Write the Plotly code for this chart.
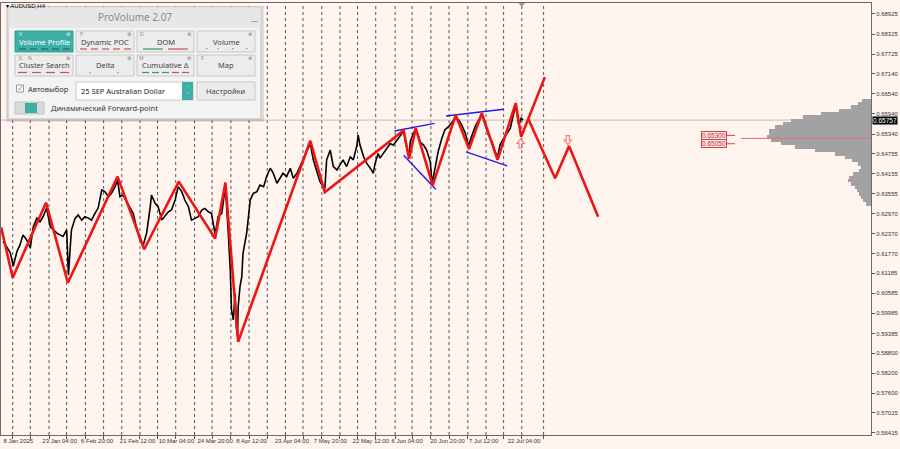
import plotly.graph_objects as go

# ---------------- data ----------------
# H4 bar index (0 = 8 Jan 2025 12:00) and close price
price_points = [
    (0, 0.6213), (6, 0.6198), (12, 0.6179), (17, 0.6140), (23, 0.6183), (28, 0.6203),
    (33, 0.6233), (39, 0.6218), (45, 0.6194), (50, 0.6257), (56, 0.6283), (61, 0.6272),
    (66, 0.6287), (72, 0.6313), (78, 0.6257), (83, 0.6248), (89, 0.6238), (94, 0.6233),
    (99, 0.6228), (105, 0.6248), (108, 0.6113), (111, 0.6198), (113, 0.6248), (119, 0.6283),
    (124, 0.6292), (130, 0.6277), (135, 0.6287), (141, 0.6283), (146, 0.6277), (152, 0.6298),
    (157, 0.6313), (163, 0.6367), (168, 0.6362), (174, 0.6347), (179, 0.6357), (185, 0.6377),
    (189, 0.6397), (193, 0.6347), (198, 0.6352), (204, 0.6332), (210, 0.6312), (215, 0.6297),
    (221, 0.6248), (226, 0.6218), (231, 0.6200), (237, 0.6238), (243, 0.6317), (245, 0.6352),
    (251, 0.6327), (256, 0.6317), (262, 0.6277), (267, 0.6287), (273, 0.6302), (278, 0.6307),
    (284, 0.6337), (289, 0.6377), (295, 0.6362), (300, 0.6337), (306, 0.6317), (311, 0.6277),
    (317, 0.6282), (322, 0.6287), (328, 0.6307), (333, 0.6312), (339, 0.6302), (344, 0.6297),
    (350, 0.6235), (355, 0.6287), (361, 0.6297), (367, 0.6379), (372, 0.6228), (375, 0.6128),
    (377, 0.6009), (380, 0.5979), (383, 0.6058), (385, 0.5959), (387, 0.5930), (388, 0.6018),
    (391, 0.6078), (394, 0.6108), (396, 0.6178), (399, 0.6208), (402, 0.6238), (405, 0.6287),
    (408, 0.6337), (413, 0.6357), (419, 0.6362), (424, 0.6382), (430, 0.6377), (435, 0.6407),
    (441, 0.6432), (446, 0.6417), (452, 0.6387), (457, 0.6402), (462, 0.6417), (468, 0.6407),
    (474, 0.6432), (479, 0.6402), (485, 0.6417), (490, 0.6437), (495, 0.6457), (501, 0.6486),
    (507, 0.6506), (512, 0.6457), (518, 0.6417), (523, 0.6392), (531, 0.6370), (534, 0.6457),
    (540, 0.6486), (545, 0.6437), (551, 0.6427), (556, 0.6442), (561, 0.6457), (567, 0.6437),
    (573, 0.6466), (578, 0.6457), (584, 0.6501), (586, 0.6531), (589, 0.6501), (595, 0.6466),
    (600, 0.6447), (606, 0.6432), (611, 0.6417), (614, 0.6447), (619, 0.6476), (622, 0.6462),
    (627, 0.6476), (633, 0.6491), (639, 0.6506), (644, 0.6501), (650, 0.6516), (655, 0.6531),
    (661, 0.6543), (666, 0.6496), (670, 0.6465), (672, 0.6511), (677, 0.6536), (681, 0.6549),
    (685, 0.6531), (688, 0.6511), (694, 0.6501), (699, 0.6486), (705, 0.6451), (708, 0.6385),
    (713, 0.6432), (718, 0.6481), (724, 0.6521), (729, 0.6546), (735, 0.6556), (741, 0.6571),
    (746, 0.6581), (752, 0.6576), (757, 0.6561), (763, 0.6536), (768, 0.6498), (774, 0.6531),
    (779, 0.6556), (785, 0.6576), (790, 0.6591), (796, 0.6561), (801, 0.6531), (807, 0.6511),
    (812, 0.6481), (816, 0.6465), (820, 0.6501), (826, 0.6521), (831, 0.6536), (837, 0.6551),
    (842, 0.6591), (846, 0.6618), (851, 0.6561), (855, 0.6581), (858, 0.65757),
]
bar_idx = [p[0] for p in price_points]
close = [p[1] for p in price_points]

# ZigZag
zz_bar = [-3, 16, 71, 107, 189, 233, 290, 350, 367, 388, 507, 531, 661, 670, 681, 709,
          747, 769, 790, 816, 846, 855, 894]
zz_price = [0.6255, 0.6105, 0.6329, 0.6090, 0.6407, 0.6190, 0.6392, 0.6222, 0.6389, 0.5914,
            0.6514, 0.6360, 0.6545, 0.6460, 0.6551, 0.6381, 0.6591, 0.6489, 0.6596, 0.6457,
            0.6626, 0.6526, 0.6704]
# Forward-point projection
fc_bar = [867, 911, 934, 982]
fc_price = [0.6578, 0.6402, 0.6498, 0.6287]
# arrows (bar, price)
arrow_up = (854, 0.6506)
arrow_dn = (932, 0.6516)

# blue trend lines: (bar0, price0, bar1, price1)
blue_lines = [
    (646, 0.6543, 712, 0.6566),
    (661, 0.6471, 714, 0.6369),
    (731, 0.6588, 826, 0.6608),
    (764, 0.6481, 832, 0.6439),
]

# weekly separators (bar index)
separators = [16, 45, 76, 105, 136, 166, 196, 226, 255, 285, 316, 345, 376, 406, 436, 466,
              495, 526, 556, 585, 615, 647, 675, 706, 736, 767, 797, 826, 856, 892]

# x labels
x_tick_bars = [0, 64, 128, 192, 256, 320, 384, 448, 512, 576, 640, 704, 768, 832]
x_tick_text = ["8 Jan 2025", "23 Jan 04:00", "6 Feb 20:00", "21 Feb 12:00", "10 Mar 04:00",
               "24 Mar 20:00", "8 Apr 12:00", "23 Apr 04:00", "7 May 20:00", "22 May 12:00",
               "6 Jun 04:00", "20 Jun 20:00", "7 Jul 12:00", "22 Jul 04:00"]

# y labels
y_ticks = [0.68925, 0.68325, 0.67725, 0.67140, 0.66540, 0.65940, 0.65340, 0.64755, 0.64155,
           0.63555, 0.62970, 0.62370, 0.61770, 0.61185, 0.60585, 0.59985, 0.59385, 0.58800,
           0.58200, 0.57600, 0.57015, 0.56415]

bid_price = 0.65757
poc_price = 0.6521
level_prices = [0.65300, 0.65050]

# volume profile
vp_price = [0.6635, 0.6625, 0.6615, 0.6605, 0.6595, 0.6585, 0.6575, 0.6565, 0.6555, 0.6545,
            0.6535, 0.6525, 0.6515, 0.6505, 0.6495, 0.6485, 0.6475, 0.6465, 0.6455, 0.6445,
            0.6435, 0.6425, 0.6415, 0.6405, 0.6395, 0.6385, 0.6375, 0.6365, 0.6355, 0.6345,
            0.6335, 0.6325]
vp_vol = [9, 13, 20, 32, 50, 68, 80, 88, 96, 102, 102, 104, 100, 90, 76, 56, 36, 26, 19, 13,
          10, 12, 18, 22, 23, 20, 16, 14, 12, 10, 8, 5]

# ---------------- layout helpers ----------------
W, H = 900, 449
L, R, T, B = 1, 871, 3, 435


def fx(p):
    return (p - L) / (R - L)


def fy(p):
    return (B - p) / (B - T)


BG = "#FFF5EE"
TEAL = "#3db0a3"
PFONT = "Noto Sans"

fig = go.Figure()

fig.add_trace(go.Bar(
    x=vp_vol, y=vp_price, orientation="h", xaxis="x2", yaxis="y",
    width=0.00102, marker=dict(color="#a2a2a2", line=dict(width=0)),
    hoverinfo="skip", showlegend=False))

fig.add_trace(go.Scatter(x=bar_idx, y=close, mode="lines",
                         line=dict(color="#000000", width=1.6), showlegend=False))

for b0, p0, b1, p1 in blue_lines:
    fig.add_trace(go.Scatter(x=[b0, b1], y=[p0, p1], mode="lines",
                             line=dict(color="#1c1cf0", width=1.4), showlegend=False))

fig.add_trace(go.Scatter(x=zz_bar, y=zz_price, mode="lines",
                         line=dict(color="#ee1515", width=2.6), showlegend=False))
fig.add_trace(go.Scatter(x=fc_bar, y=fc_price, mode="lines",
                         line=dict(color="#ee1515", width=2.6), showlegend=False))

shapes = []
for s in separators:
    shapes.append(dict(type="line", xref="x", yref="paper", x0=s, x1=s, y0=0, y1=1,
                       line=dict(color="#555555", width=1, dash="dot"), layer="below"))
shapes.append(dict(type="line", xref="paper", yref="y", x0=0, x1=1, y0=bid_price, y1=bid_price,
                   line=dict(color="#c9b7ae", width=1), layer="below"))
shapes.append(dict(type="line", xref="paper", yref="y", x0=fx(741), x1=1, y0=poc_price,
                   y1=poc_price, line=dict(color="#e07070", width=1), layer="above"))
for lp in level_prices:
    shapes.append(dict(type="line", xref="paper", yref="y", x0=fx(727), x1=fx(735), y0=lp,
                       y1=lp, line=dict(color="#d04545", width=1), layer="above"))
# chart-shift marker
shapes.append(dict(type="path", xref="paper", yref="paper",
                   path=f"M {fx(518.5)} {fy(3)} L {fx(525)} {fy(3)} L {fx(521.7)} {fy(7)} Z",
                   fillcolor="#9a9a9a", line=dict(width=0), layer="above"))
# hollow arrows
up_path = "M -1.6 -4.5 L 1.6 -4.5 L 1.6 0 L 3.6 0 L 0 4.5 L -3.6 0 L -1.6 0 Z"
dn_path = "M -1.6 4.5 L 1.6 4.5 L 1.6 0 L 3.6 0 L 0 -4.5 L -3.6 0 L -1.6 0 Z"
for (ab, ap), pth in [(arrow_up, up_path), (arrow_dn, dn_path)]:
    shapes.append(dict(type="path", xref="x", yref="y", xsizemode="pixel", ysizemode="pixel",
                       xanchor=ab, yanchor=ap, path=pth, fillcolor="rgba(0,0,0,0)",
                       line=dict(color="#f08080", width=1.2), layer="above"))


def rect(x0, y0, x1, y1, fill, line=None, lw=1):
    shapes.append(dict(type="rect", xref="paper", yref="paper",
                       x0=fx(x0), x1=fx(x1), y0=fy(y1), y1=fy(y0), fillcolor=fill,
                       line=dict(color=line or fill, width=lw if line else 0), layer="above"))


def seg(x0, x1, y, color, w=1.2):
    shapes.append(dict(type="line", xref="paper", yref="paper", x0=fx(x0), x1=fx(x1),
                       y0=fy(y), y1=fy(y), line=dict(color=color, width=w), layer="above"))


annotations = []


def txt(x, y, s, size=7.5, color="#333333", anchor="center", family=PFONT):
    annotations.append(dict(x=fx(x), y=fy(y), xref="paper", yref="paper", text=s,
                            showarrow=False, xanchor=anchor, yanchor="middle",
                            font=dict(size=size, color=color, family=family)))


# ---- ProVolume panel ----
rect(6, 6, 264, 122, "rgba(0,0,0,0.10)")
rect(8, 7, 261, 119, "#f3f3f3", "#bdbdbd")
rect(8.5, 7.5, 260.5, 28, "#e7e7e7")
txt(134.5, 17.5, "ProVolume 2.07", 10, "#8c8c8c")
txt(254, 20, "—", 7, "#777777")

cols = [(15, 73), (76, 134), (137, 194), (197, 255)]
row1_lbl = ["Volume Profile", "Dynamic POC", "DOM", "Volume"]
row2_lbl = ["Cluster Search", "Delta", "Cumulative Δ", "Map"]
for i, (a, b) in enumerate(cols):
    if i == 0:
        rect(a, 31, b, 52, TEAL, "#369d91")
    else:
        rect(a, 31, b, 52, "#ececec", "#c8c8c8")
    rect(a, 55, b, 76, "#ececec", "#c8c8c8")
    txt((a + b) / 2, 42, row1_lbl[i], 7.5, "#ffffff" if i == 0 else "#444444")
    txt((a + b) / 2, 65, row2_lbl[i], 7.5, "#444444")
    txt(b - 4.5, 34, "⚙", 5, "#e8f6f4" if i == 0 else "#777777")
    txt(b - 4.5, 58, "⚙", 5, "#777777")

for x, y, s, c in [(20.5, 34, "V", "#e8f6f4"), (81.5, 34, "P", "#888"), (141.5, 34, "D", "#888"),
                   (20, 58, "S", "#888"), (30, 58, "N", "#888"), (141.5, 58, "M", "#888"),
                   (202, 58, "F", "#888")]:
    txt(x, y, s, 5, c)

for a in (19, 30, 41, 52, 63):
    seg(a, a + 7, 49, "#1f6b63")
for a in (80, 91, 102, 113, 124):
    seg(a, a + 7, 49, "#d05050")
seg(143, 163, 49, "#3a9a5a")
seg(168, 188, 49, "#d05050")
for x, c in [(207, "#d04040"), (218, "#3a9a5a"), (233, "#d04040"), (247, "#d04040")]:
    txt(x, 49, "•", 5, c)
for a in (18, 32, 46, 60):
    seg(a, a + 9, 72.5, "#d05050")
txt(90, 72.5, "•", 5, "#3a9a5a")
txt(118, 72.5, "•", 5, "#d04040")
for a, c in [(142, "#3a9a5a"), (152, "#3a9a5a"), (162, "#3a9a5a"), (172, "#d05050"), (182, "#d05050")]:
    seg(a, a + 7, 72.5, c)

rect(16.5, 85, 23.5, 92, "#ffffff", "#9a9a9a")
txt(20.5, 87.5, "✓", 8, "#2a9d93")
txt(26, 89, "Автовыбор", 7.5, "#333333", "left")
rect(76, 82, 193, 100, "#ffffff", "#c8c8c8")
rect(182, 82, 193, 100, TEAL)
txt(187.5, 88, "˄", 6, "#ffffff")
txt(187.5, 94.5, "˅", 6, "#ffffff")
txt(79, 91, "25 SEP Australian Dollar", 7.5, "#222222", "left")
rect(197, 82, 255, 100, "#ececec", "#c8c8c8")
txt(226, 91, "Настройки", 7.5, "#444444")
rect(15, 102, 44, 114, "#d9d9d9", "#c4c4c4")
rect(25, 103, 37, 113, TEAL)
txt(49, 108, "Динамический Forward-point", 7.5, "#333333", "left")

# ---- chart texts ----
txt(4, 5.5, "▾ AUDUSD,H4", 6, "#000000", "left", "Liberation Sans")
for lp, s in zip(level_prices, ["0.65300", "0.65050"]):
    annotations.append(dict(x=fx(714), y=lp, xref="paper", yref="y", text=s, showarrow=False,
                            xanchor="center", yanchor="middle",
                            font=dict(size=6.5, color="#c83030", family="Liberation Sans"),
                            bgcolor="#fbe6e6", bordercolor="#d04545", borderwidth=1, borderpad=0))
annotations.append(dict(x=1, y=bid_price, xref="paper", yref="y", text="0.65757",
                        showarrow=False, xanchor="left", yanchor="middle", xshift=1,
                        font=dict(size=6.5, color="#ffffff", family="Liberation Sans"),
                        bgcolor="#000000", borderpad=0))

fig.update_layout(
    width=W, height=H,
    margin=dict(l=L, r=W - R, t=T, b=H - B, pad=0),
    paper_bgcolor=BG, plot_bgcolor=BG,
    showlegend=False, bargap=0,
    shapes=shapes, annotations=annotations,
    xaxis=dict(range=[-3.3, 1432.2], showgrid=False, zeroline=False,
               tickmode="array", tickvals=x_tick_bars, ticktext=x_tick_text,
               ticks="", tickangle=0, ticklabelposition="outside right",
               tickfont=dict(size=6, color="#333333", family="Liberation Sans"),
               showline=True, linecolor="#6a6a6a", linewidth=1, mirror=True,
               minor=dict(tickmode="array", tickvals=separators, ticks="outside",
                          ticklen=3, tickcolor="#555555")),
    xaxis2=dict(overlaying="x", range=[870, 0], visible=False, showgrid=False),
    yaxis=dict(range=[0.56354, 0.69253], side="right", showgrid=False, zeroline=False,
               tickmode="array", tickvals=y_ticks, ticktext=[f"{v:.5f}" for v in y_ticks],
               ticks="outside", ticklen=3, tickcolor="#555555",
               tickfont=dict(size=6, color="#333333", family="Liberation Sans"),
               showline=True, linecolor="#6a6a6a", linewidth=1, mirror=True),
)

fig.write_html("out.html", config={"displayModeBar": False},
               post_script="document.body.style.margin='0px';")
